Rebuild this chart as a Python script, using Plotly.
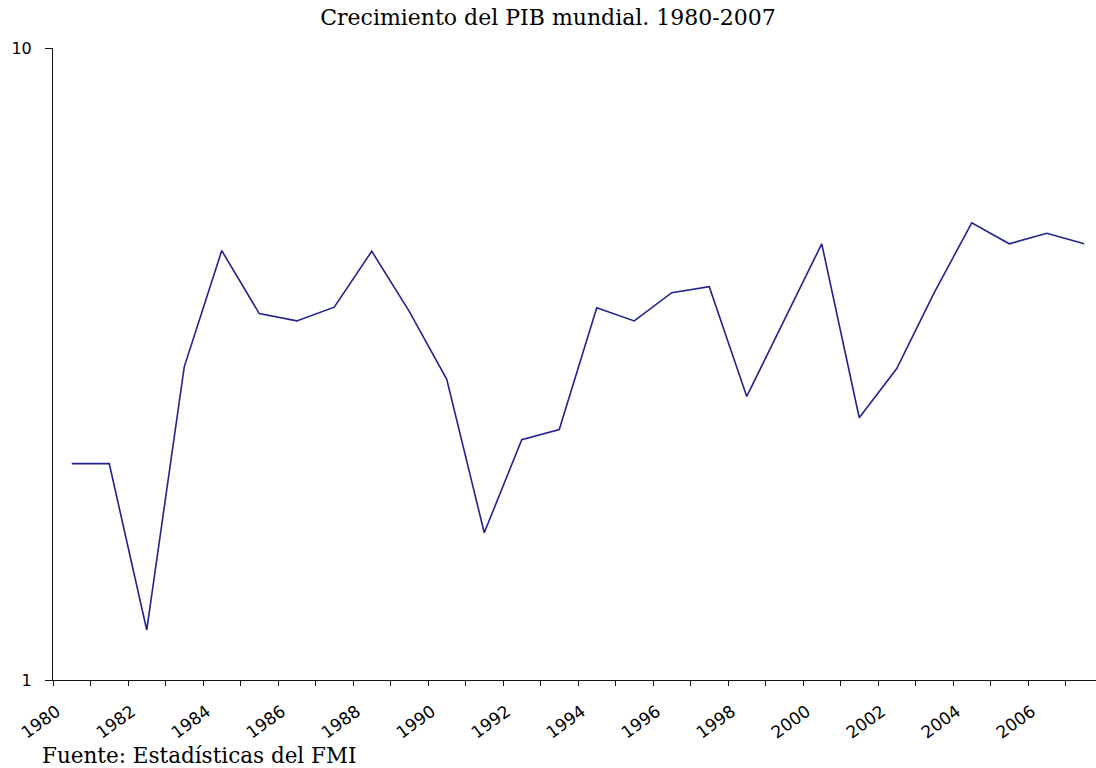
import plotly.graph_objects as go

years = list(range(1980, 2008))
growth = [2.20, 2.20, 1.20, 3.13, 4.78, 3.80, 3.70, 3.89, 4.77, 3.83,
          2.99, 1.71, 2.40, 2.49, 3.88, 3.70, 4.10, 4.19, 2.81, 3.71,
          4.90, 2.60, 3.11, 4.10, 5.29, 4.90, 5.09, 4.90]
label_years = list(range(1980, 2007, 2))
y_ticks = [1, 10]
title_text = "Crecimiento del PIB mundial. 1980-2007"
source_text = "Fuente: Estadísticas del FMI"

W, H = 1096, 768
L, R, T, B = 53, 0, 48, 88
plot_w = W - L - R
plot_h = H - T - B
cat_w = 37.5
label_shift = 0.4  # labels sit slightly left of the category centre

fig = go.Figure()
fig.add_trace(go.Scatter(x=years, y=growth, mode="lines",
                         line=dict(color="#22228e", width=1.6),
                         hoverinfo="x+y", showlegend=False))

x0 = years[0] - 0.5
x1 = x0 + plot_w / cat_w

fig.update_layout(
    width=W, height=H,
    margin=dict(l=L, r=R, t=T, b=B),
    paper_bgcolor="white", plot_bgcolor="white",
    title=dict(text=title_text, x=0.5, xref="container", xanchor="center",
               y=1 - 17 / H, yanchor="middle",
               font=dict(family="DejaVu Serif", size=22, color="black")),
    xaxis=dict(range=[x0, x1], showgrid=False, zeroline=False,
               showline=True, linecolor="#111", linewidth=1,
               tickmode="array", tickvals=[y - label_shift for y in label_years],
               ticktext=[str(y) for y in label_years],
               ticks="", tickangle=-36, ticklabelstandoff=14,
               tickfont=dict(family="DejaVu Sans", size=17, color="black"),
               minor=dict(tickmode="array",
                          tickvals=[y - 0.5 for y in years] + [years[-1] + 0.5],
                          ticks="outside", ticklen=5, tickcolor="#111",
                          tickwidth=1, showgrid=False)),
    yaxis=dict(type="log", range=[0, 1], tickmode="array", tickvals=y_ticks,
               ticktext=[str(v) for v in y_ticks],
               ticks="outside", ticklen=7, tickcolor="#111",
               showline=True, linecolor="#111", linewidth=1,
               showgrid=True, gridcolor="#888", gridwidth=1, zeroline=False,
               ticklabelstandoff=10,
               tickfont=dict(family="DejaVu Sans", size=16, color="black")),
)

fig.add_annotation(text=source_text, xref="paper", yref="paper",
                   x=(40 - L) / plot_w, y=(plot_h - (755 - T)) / plot_h,
                   xanchor="left", yanchor="middle", showarrow=False,
                   font=dict(family="DejaVu Serif", size=21.5, color="black"))

fig.write_html("out.html", config={"displayModeBar": False},
               post_script="document.body.style.margin='0';document.body.style.overflow='hidden';")
